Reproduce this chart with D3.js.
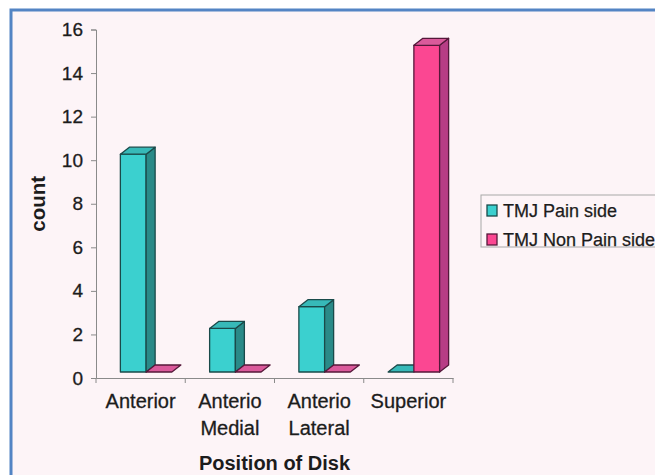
<!DOCTYPE html>
<html>
<head>
<meta charset="utf-8">
<script src="https://cdn.jsdelivr.net/npm/d3@7"></script>
<style>
  html, body { margin: 0; padding: 0; background: #ffffff; }
  svg { display: block; font-family: "Liberation Sans", Arial, sans-serif; }
</style>
</head>
<body>
<svg id="chart" width="655" height="475"></svg>
<script>
// Disk position counts for the painful and non-painful TMJ sides
const categories = ["Anterior", "Anterio Medial", "Anterio Lateral", "Superior"];
const categoryLines = [["Anterior"], ["Anterio", "Medial"], ["Anterio", "Lateral"], ["Superior"]];
const painSide = [10, 2, 3, 0];
const nonPainSide = [0, 0, 0, 15];
const seriesNames = ["TMJ Pain side", "TMJ Non Pain side"];
const yTicks = [0, 2, 4, 6, 8, 10, 12, 14, 16];

const textColor = "#1c1c1c";
const svg = d3.select("#chart");

// outer frame and chart background
svg.append("rect")
  .attr("x", 11).attr("y", 10).attr("width", 700).attr("height", 520)
  .attr("fill", "#fdf4f7").attr("stroke", "#5384c4").attr("stroke-width", 3);

const x = d3.scaleBand().domain(categories).range([96, 453]);
const y = d3.scaleLinear().domain([0, 16]).range([378, 29.5]);

// 3D geometry: bars sit slightly behind the floor's front edge
const depthX = 9, depthY = -7, lift = 6;
const barW = 25.75;

const styles = [
  { front: "#3bd0cf", side: "#2a8a88", top: "#37b9b8", stroke: "#1a4a4a" },
  { front: "#fb4792", side: "#b73d85", top: "#da5a9b", stroke: "#55183a" }
];

const series = [painSide, nonPainSide];
const bars = svg.append("g");

categories.forEach((cat, ci) => {
  const x0 = x(cat) + (x.bandwidth() - 2 * barW) / 2 + 5.5;
  series.forEach((vals, si) => {
    const v = vals[ci];
    const st = styles[si];
    const l = x0 + si * barW, r = l + barW;
    const b = y(0) - lift, t = y(v) - lift;
    const g = bars.append("g")
      .attr("stroke", st.stroke).attr("stroke-width", 1.3).attr("stroke-linejoin", "round");
    if (v > 0) {
      g.append("rect").attr("x", l).attr("y", t).attr("width", barW).attr("height", b - t)
        .attr("fill", st.front);
      g.append("path")
        .attr("d", `M${r},${t}L${r + depthX},${t + depthY}L${r + depthX},${b + depthY}L${r},${b}Z`)
        .attr("fill", st.side);
    }
    g.append("path")
      .attr("d", `M${l},${t}L${l + depthX},${t + depthY}L${r + depthX},${t + depthY}L${r},${t}Z`)
      .attr("fill", st.top);
  });
});

// value axis
const yAxis = svg.append("g")
  .attr("transform", "translate(96,0)")
  .call(d3.axisLeft(y).tickValues(yTicks).tickSize(5).tickPadding(8));
yAxis.select(".domain").attr("stroke", "#8a8a8a");
yAxis.selectAll(".tick line").attr("stroke", "#8a8a8a");
yAxis.selectAll(".tick text")
  .attr("font-size", 19).attr("fill", textColor)
  .attr("stroke", textColor).attr("stroke-width", 0.3)
  .attr("font-family", "Liberation Sans, Arial, sans-serif");

// category axis with ticks at band boundaries
const xAxis = svg.append("g")
  .attr("transform", "translate(0,378)")
  .call(d3.axisBottom(x).tickSize(0).tickFormat(""));
xAxis.select(".domain").attr("stroke", "#8a8a8a");
const bounds = categories.map(c => x(c)).concat([x.range()[1]]);
xAxis.selectAll(".bound").data(bounds).enter().append("line")
  .attr("x1", d => d).attr("x2", d => d).attr("y1", 0).attr("y2", 5)
  .attr("stroke", "#8a8a8a");

categories.forEach((cat, ci) => {
  const cx = x(cat) + x.bandwidth() / 2;
  const tx = svg.append("text")
    .attr("x", cx)
    .attr("y", 408)
    .attr("text-anchor", "middle")
    .attr("font-size", 20).attr("fill", textColor)
    .attr("stroke", textColor).attr("stroke-width", 0.3);
  categoryLines[ci].forEach((line, li) => {
    tx.append("tspan").attr("x", cx).attr("dy", li === 0 ? 0 : 27).text(line);
  });
});

// axis titles
svg.append("text")
  .attr("x", (x.range()[0] + x.range()[1]) / 2).attr("y", 470)
  .attr("text-anchor", "middle").attr("font-size", 20).attr("font-weight", "bold").attr("fill", textColor)
  .text("Position of Disk");

svg.append("text")
  .attr("transform", `translate(45,${(y(0) + y(16)) / 2}) rotate(-90)`)
  .attr("text-anchor", "middle").attr("font-size", 20.5).attr("font-weight", "bold").attr("fill", textColor)
  .text("count");

// legend
const legend = svg.append("g");
legend.append("rect")
  .attr("x", 481).attr("y", 195).attr("width", 220).attr("height", 52)
  .attr("fill", "#fdf4f7").attr("stroke", "#a8a8a8");
seriesNames.forEach((name, i) => {
  legend.append("rect")
    .attr("x", 487).attr("y", 205 + i * 29).attr("width", 10).attr("height", 11)
    .attr("fill", styles[i].front).attr("stroke", styles[i].stroke).attr("stroke-width", 1.3);
  legend.append("text")
    .attr("x", 503).attr("y", 217 + i * 29)
    .attr("font-size", 18).attr("fill", textColor)
    .attr("stroke", textColor).attr("stroke-width", 0.25)
    .text(name);
});
</script>
</body>
</html>
